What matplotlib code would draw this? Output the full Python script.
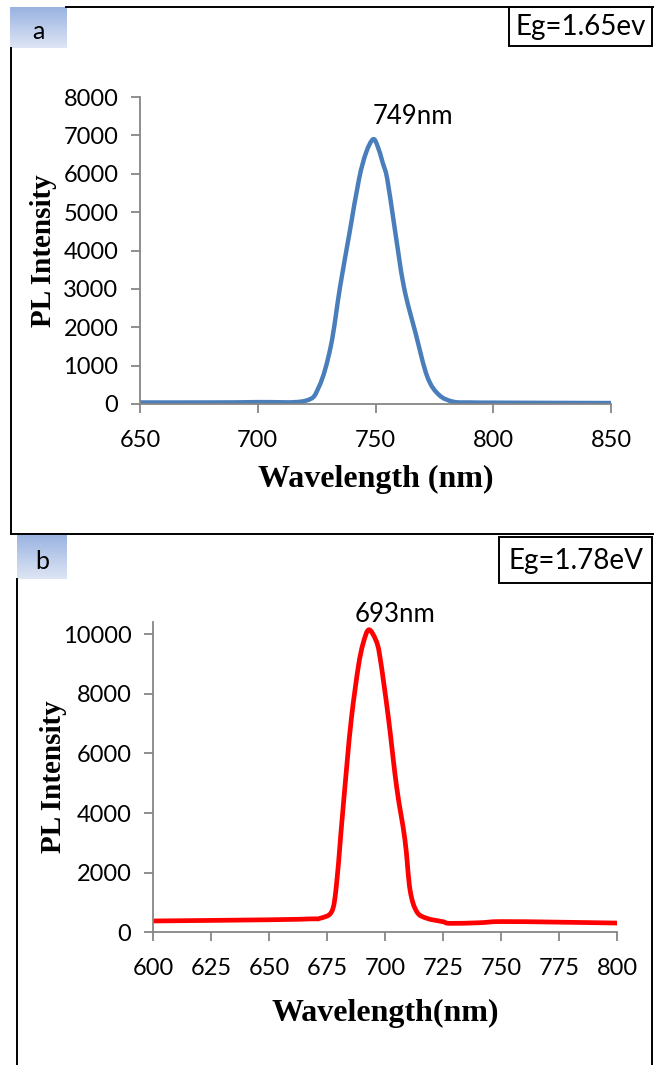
import numpy as np
import matplotlib.pyplot as plt
from matplotlib.patches import Rectangle, PathPatch
from matplotlib.lines import Line2D
from matplotlib.path import Path

# PL spectrum, sample a
wl_a = [650, 680, 700, 720, 726, 731, 735, 739, 743, 746, 749, 751, 753, 755, 758, 762, 767, 772, 777, 783, 790, 800, 820, 850]
pl_a = [40, 40, 50, 80, 450, 1500, 3070, 4470, 5860, 6550, 6900, 6700, 6300, 5860, 4640, 3070, 1850, 710, 235, 60, 40, 35, 30, 25]

# PL spectrum, sample b
wl_b = [600, 650, 668, 672, 677, 679, 681, 683.5, 685.6, 688.5, 690.6, 693, 696, 697.8, 701.4, 705, 708.6, 710.8, 713.7, 718, 725, 728, 741, 750, 775, 800]
pl_b = [380, 420, 450, 470, 690, 1530, 3330, 5560, 7235, 8910, 9700, 10150, 9810, 9250, 7235, 4886, 3100, 1420, 690, 470, 355, 300, 322, 360, 340, 310]

xticks_a = [650, 700, 750, 800, 850]
yticks_a = [0, 1000, 2000, 3000, 4000, 5000, 6000, 7000, 8000]
xticks_b = [600, 625, 650, 675, 700, 725, 750, 775, 800]
yticks_b = [0, 2000, 4000, 6000, 8000, 10000]

W, H = 654, 1065
fig = plt.figure(figsize=(W / 100, H / 100), dpi=100)


def fx(x):
    return x / W


def fy(y):
    return 1 - y / H


def style(ax):
    for s in ['top', 'right']:
        ax.spines[s].set_visible(False)
    for s in ['left', 'bottom']:
        ax.spines[s].set_color('#868686')
        ax.spines[s].set_linewidth(1.3)
    ax.tick_params(direction='out', length=6.5, width=1.3, color='#868686',
                   labelsize=17, pad=9)
    ax.tick_params(axis='x', pad=12)
    for lab in ax.get_xticklabels() + ax.get_yticklabels():
        lab.set_fontfamily('Lato')


def smooth_line(ax, x, y, color, lw):
    # Catmull-Rom curve through the points, built in screen space
    # the way a spreadsheet "smoothed line" is drawn
    p = ax.transData.transform(np.column_stack([x, y]))
    n = len(p)
    verts = [p[0]]
    codes = [Path.MOVETO]
    for i in range(n - 1):
        p0 = p[i - 1] if i > 0 else p[i]
        p3 = p[i + 2] if i + 2 < n else p[i + 1]
        c1 = p[i] + (p[i + 1] - p0) / 6
        c2 = p[i + 1] - (p3 - p[i]) / 6
        verts += [c1, c2, p[i + 1]]
        codes += [Path.CURVE4] * 3
    verts = ax.transData.inverted().transform(np.array(verts))
    ax.add_patch(PathPatch(Path(verts, codes), facecolor='none',
                           edgecolor=color, lw=lw, joinstyle='round',
                           capstyle='butt'))


serif_x = dict(family='Liberation Serif', weight='bold', size=23)
serif_y = dict(family='Liberation Serif', weight='bold', size=21)

# panel a
ax1 = fig.add_axes([fx(140), fy(404), (611 - 140) / W, (404 - 97) / H])
ax1.set_xlim(650, 850)
ax1.set_ylim(0, 8000)
ax1.set_xticks(xticks_a)
ax1.set_yticks(yticks_a)
style(ax1)
smooth_line(ax1, wl_a, pl_a, '#4A7EBB', 3.2)
ax1.set_xlabel('Wavelength (nm)', fontdict=serif_x)
ax1.xaxis.set_label_coords(0.5, -0.2)
ax1.set_ylabel('PL Intensity', fontdict=serif_y)
ax1.yaxis.set_label_coords(-0.176, 0.5)
ax1.text(766, 7480, '749nm', ha='center', va='center', fontsize=18.5,
         family='Lato', clip_on=False)

# panel b
ax2 = fig.add_axes([fx(153), fy(932.3), (617 - 153) / W, (932.3 - 621.7) / H])
ax2.set_xlim(600, 800)
ax2.set_ylim(0, 10420)
ax2.set_xticks(xticks_b)
ax2.set_yticks(yticks_b)
style(ax2)
smooth_line(ax2, wl_b, pl_b, '#FF0000', 3.4)
ax2.set_xlabel('Wavelength(nm)', fontdict=serif_x)
ax2.xaxis.set_label_coords(0.5, -0.213)
ax2.set_ylabel('PL Intensity', fontdict=serif_y)
ax2.yaxis.set_label_coords(-0.185, 0.5)
ax2.text(704.3, 10650, '693nm', ha='center', va='center', fontsize=18.5,
         family='Lato', clip_on=False)


# outer frames
def frame_line(x0, y0, x1, y1):
    fig.add_artist(Line2D([fx(x0), fx(x1)], [fy(y0), fy(y1)],
                          color='black', lw=1.4))


frame_line(66, 7, 654, 7)
frame_line(11, 48, 11, 534)
frame_line(11, 534, 654, 534)
frame_line(17, 579, 17, 1065)
frame_line(652, 583, 652, 1065)

# panel tags with gradient fill
grad = np.linspace(0, 1, 64).reshape(-1, 1)
top_c = np.array([0.60, 0.70, 0.88])
bot_c = np.array([0.87, 0.90, 0.96])
img = top_c + grad[..., None] * (bot_c - top_c)


def tag(x0, y0, x1, y1, letter):
    tax = fig.add_axes([fx(x0), fy(y1), (x1 - x0) / W, (y1 - y0) / H])
    tax.imshow(img, aspect='auto', extent=(0, 1, 0, 1))
    tax.set_axis_off()
    tax.text(0.5, 0.40, letter, ha='center', va='center', fontsize=18,
             family='Lato', transform=tax.transAxes)


tag(10, 7, 67, 48, 'a')
tag(17, 535, 67, 579, 'b')


def eg_box(x0, y0, x1, y1, label):
    fig.add_artist(Rectangle((fx(x0), fy(y1)), (x1 - x0) / W, (y1 - y0) / H,
                             transform=fig.transFigure, facecolor='white',
                             edgecolor='black', lw=1.4))
    fig.text(fx((x0 + x1) / 2), fy((y0 + y1) / 2 + 1), label, ha='center',
             va='center', fontsize=20, family='Lato')


eg_box(509, 7, 652, 46, 'Eg=1.65ev')
eg_box(499, 537, 652, 583, 'Eg=1.78eV')

fig.savefig('out.png', dpi=100)
